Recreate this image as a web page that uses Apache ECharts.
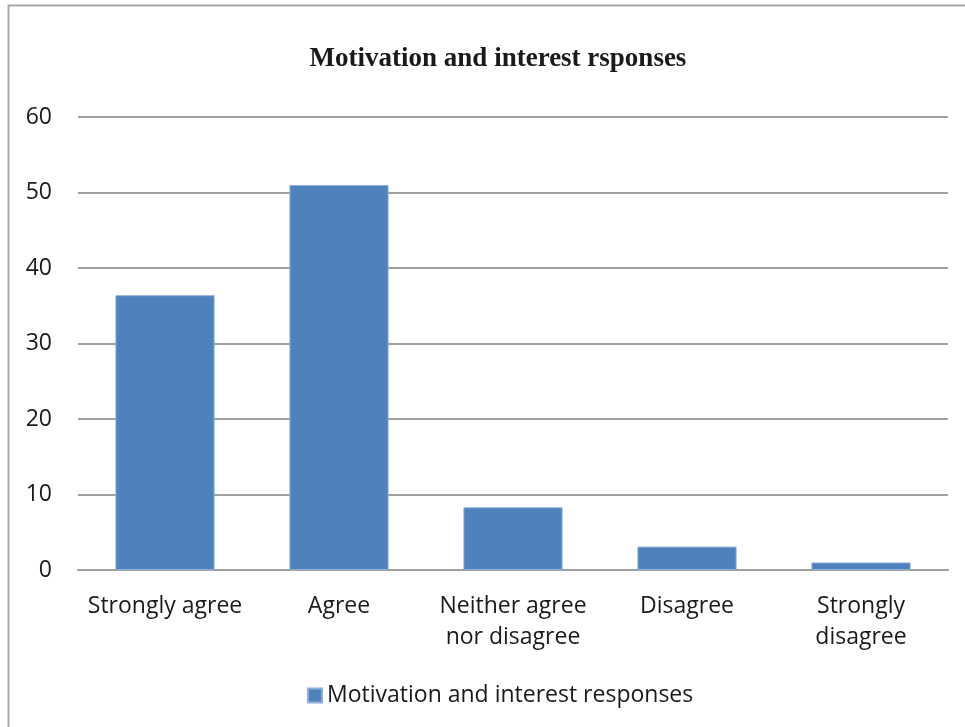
<!DOCTYPE html>
<html>
<head>
<meta charset="utf-8">
<script src="https://cdn.jsdelivr.net/npm/echarts@6/dist/echarts.min.js"></script>
<style>html,body{margin:0;padding:0;background:#fff}#c{width:965px;height:727px}</style>
</head>
<body>
<div id="c"></div>
<script>
const categories = ['Strongly agree', 'Agree', 'Neither agree\nnor disagree', 'Disagree', 'Strongly\ndisagree'];
const values = [36.4, 51, 8.3, 3.1, 1];
const seriesName = 'Motivation and interest responses';
const titleText = 'Motivation and interest rsponses';
const yTicks = {min: 0, max: 60, interval: 10};

const chart = echarts.init(document.getElementById('c'), null, {renderer: 'canvas'});
chart.setOption({
  animation: false,
  backgroundColor: '#fff',
  title: {
    text: titleText, left: 493, textAlign: 'center', top: 41,
    textStyle: {fontFamily: 'Liberation Serif', fontWeight: 'bold', fontSize: 27, color: '#1a1a1a'}
  },
  graphic: [{
    type: 'polyline', silent: true,
    shape: {points: [[8.5, 727], [8.5, 5.5], [965, 5.5]]},
    style: {stroke: '#a9a9a9', lineWidth: 2, fill: null}
  }],
  legend: {
    bottom: 15, left: 302, itemWidth: 14, itemHeight: 14, itemGap: 9,
    icon: 'rect',
    textStyle: {fontFamily: 'Open Sans', fontSize: 23, color: '#1a1a1a'},
    data: [seriesName]
  },
  grid: {left: 78, right: 17, top: 117, bottom: 157},
  xAxis: {
    type: 'category', data: categories,
    axisLine: {lineStyle: {color: '#a0a0a0', width: 2}},
    axisTick: {show: false},
    axisLabel: {fontFamily: 'Open Sans', fontSize: 23, color: '#1a1a1a', margin: 21, lineHeight: 31, interval: 0}
  },
  yAxis: {
    type: 'value', min: yTicks.min, max: yTicks.max, interval: yTicks.interval,
    axisLine: {show: false}, axisTick: {show: false},
    splitLine: {lineStyle: {color: '#a0a0a0', width: 2}},
    axisLabel: {fontFamily: 'Open Sans', fontSize: 23, color: '#1a1a1a', margin: 26}
  },
  series: [{
    name: seriesName, type: 'bar', data: values, barWidth: '57%',
    itemStyle: {color: '#4f81bd', borderColor: '#8eaedb', borderWidth: 1}
  }]
});
</script>
</body>
</html>
